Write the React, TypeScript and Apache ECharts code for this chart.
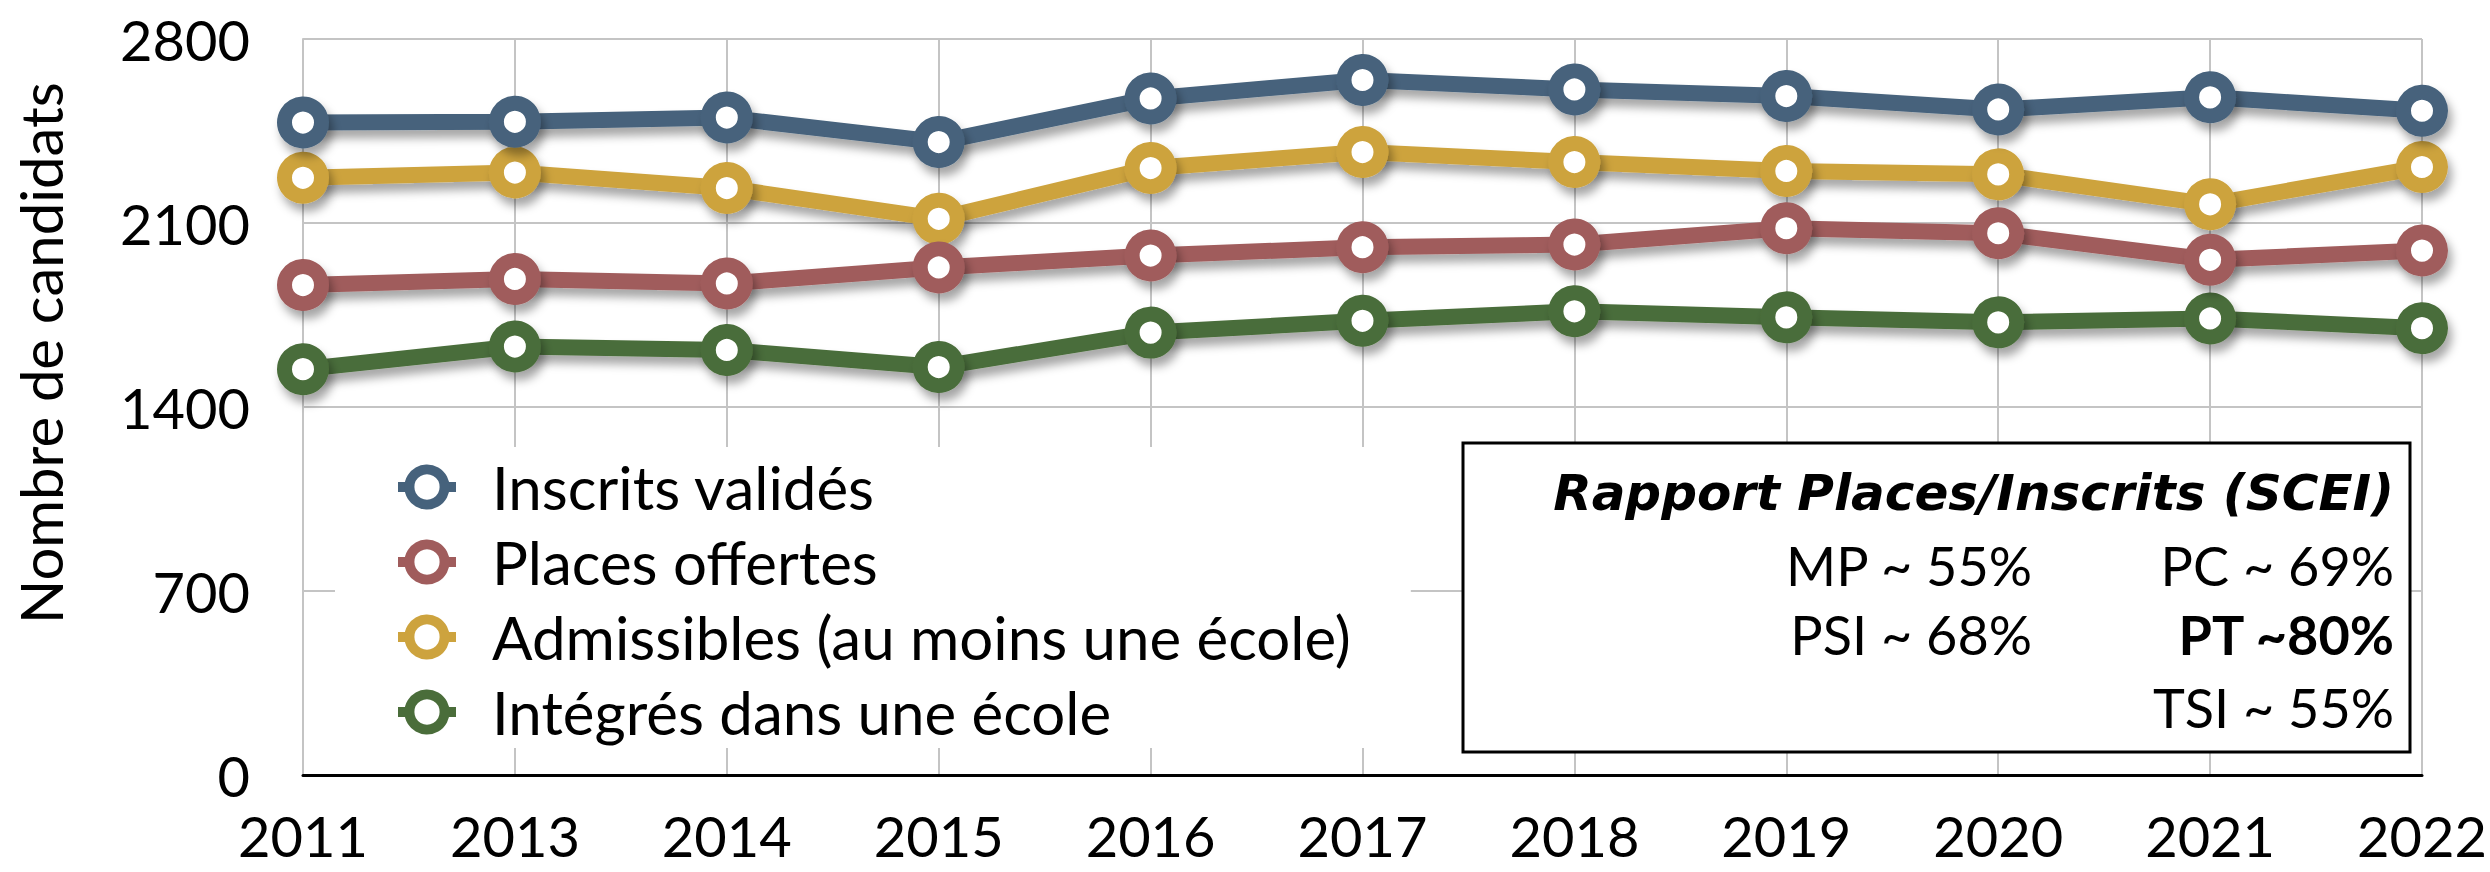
import React, { useEffect, useRef } from "react";
import * as echarts from "echarts";

const years = ["2011", "2013", "2014", "2015", "2016", "2017", "2018", "2019", "2020", "2021", "2022"];
const inscrits = [2482, 2485, 2501, 2408, 2574, 2644, 2608, 2583, 2532, 2578, 2527];
const places = [1864, 1887, 1870, 1931, 1976, 2008, 2018, 2080, 2061, 1960, 1995];
const admissibles = [2272, 2292, 2233, 2116, 2309, 2370, 2332, 2298, 2285, 2171, 2313];
const integres = [1544, 1630, 1617, 1552, 1683, 1728, 1764, 1741, 1722, 1737, 1700];
const seriesNames = ["Inscrits validés", "Places offertes", "Admissibles (au moins une école)", "Intégrés dans une école"];
const seriesColors = ["#46627C", "#A05C5C", "#CDA33E", "#4A6D3A"];
const yMin = 0;
const yMax = 2800;
const yStep = 700;
const yTitle = "Nombre de candidats";
const ratioTitle = "Rapport Places/Inscrits (SCEI)";
const ratioLeftCol = ["MP ~ 55%", "PSI ~ 68%", ""];
const ratioRightCol = ["PC ~ 69%", "PT ~80%", "TSI ~ 55%"];
const ratioBold = [false, true, false];

const FONT = "Lato, 'Open Sans', sans-serif";

export default function App() {
  const ref = useRef<HTMLDivElement>(null);
  useEffect(() => {
    if (!ref.current) return;
    const chart = echarts.init(ref.current, null, { renderer: "svg" });
    const values = [inscrits, places, admissibles, integres];
    const drawOrder = [2, 1, 0, 3];
    const series = drawOrder.map((i) => ({
      name: seriesNames[i],
      type: "line",
      data: values[i],
      color: seriesColors[i],
      symbol: "circle",
      symbolSize: 37,
      z: i === 1 ? 4 : 3,
      lineStyle: {
        width: 16,
        color: seriesColors[i],
        shadowColor: "rgba(0,0,0,0.35)",
        shadowBlur: 10,
        shadowOffsetX: 4,
        shadowOffsetY: 8,
      },
      itemStyle: {
        color: "#fff",
        borderColor: seriesColors[i],
        borderWidth: 15,
        shadowColor: "rgba(0,0,0,0.35)",
        shadowBlur: 10,
        shadowOffsetX: 4,
        shadowOffsetY: 8,
      },
      emphasis: { disabled: true },
    }));

    const boxX = 1463, boxY = 443, boxW = 947, boxH = 309;
    const rightX = 2394, leftColX = 2032;
    const rowYs = [565, 634, 707];
    const graphics: any[] = [
      {
        type: "text",
        x: 40,
        y: 353,
        rotation: Math.PI / 2,
        style: { text: yTitle, fontSize: 58, fontFamily: FONT, fill: "#000", align: "center", verticalAlign: "middle" },
      },
      {
        type: "rect",
        x: boxX,
        y: boxY,
        z: 10,
        shape: { width: boxW, height: boxH },
        style: { fill: "#fff", stroke: "#000", lineWidth: 3 },
      },
      {
        type: "text",
        x: rightX,
        y: 493,
        z: 11,
        style: { text: ratioTitle, fontSize: 50, fontStyle: "italic", fontWeight: "bold", fontFamily: "'DejaVu Sans', sans-serif", fill: "#000", align: "right", verticalAlign: "middle" },
      },
    ];
    rowYs.forEach((ry, k) => {
      if (ratioLeftCol[k]) {
        graphics.push({
          type: "text", x: leftColX, y: ry, z: 11,
          style: { text: ratioLeftCol[k], fontSize: 54, fontFamily: FONT, fill: "#000", align: "right", verticalAlign: "middle" },
        });
      }
      graphics.push({
        type: "text", x: rightX, y: ry, z: 11,
        style: { text: ratioRightCol[k], fontSize: 54, fontWeight: ratioBold[k] ? "bold" : "normal", fontFamily: FONT, fill: "#000", align: "right", verticalAlign: "middle" },
      });
    });

    chart.setOption({
      animation: false,
      backgroundColor: "#fff",
      textStyle: { fontFamily: FONT },
      grid: { left: 303, right: 68, top: 39, bottom: 97 },
      legend: {
        data: seriesNames,
        orient: "vertical",
        left: 335,
        top: 447,
        backgroundColor: "#fff",
        padding: [10, 60, 6, 58],
        itemWidth: 58,
        itemHeight: 44,
        itemGap: 15,
        selectedMode: false,
        itemStyle: { borderWidth: 10, shadowBlur: 0, shadowColor: "transparent", shadowOffsetX: 0, shadowOffsetY: 0 },
        lineStyle: { width: 10, shadowBlur: 0, shadowColor: "transparent", shadowOffsetX: 0, shadowOffsetY: 0 },
        textStyle: { fontSize: 60, fontFamily: FONT, color: "#000", lineHeight: 60, padding: [0, 0, 0, 31] },
      },
      xAxis: {
        type: "category",
        data: years,
        boundaryGap: false,
        axisLine: { show: true, lineStyle: { color: "#000", width: 3 } },
        axisTick: { show: false },
        axisLabel: { fontSize: 56, color: "#000", margin: 32, lineHeight: 56, fontFamily: FONT },
        splitLine: { show: true, lineStyle: { color: "#C4C4C4", width: 2 } },
      },
      yAxis: {
        type: "value",
        min: yMin,
        max: yMax,
        interval: yStep,
        axisLine: { show: true, lineStyle: { color: "#C4C4C4", width: 2 } },
        axisTick: { show: false },
        axisLabel: { fontSize: 56, color: "#000", margin: 53, fontFamily: FONT, formatter: (v: number) => String(v) },
        splitLine: { show: true, lineStyle: { color: "#C4C4C4", width: 2 } },
      },
      series,
      graphic: graphics,
    });
    return () => chart.dispose();
  }, []);
  return <div ref={ref} style={{ position: "fixed", left: 0, top: 0, width: 2490, height: 872 }} />;
}
